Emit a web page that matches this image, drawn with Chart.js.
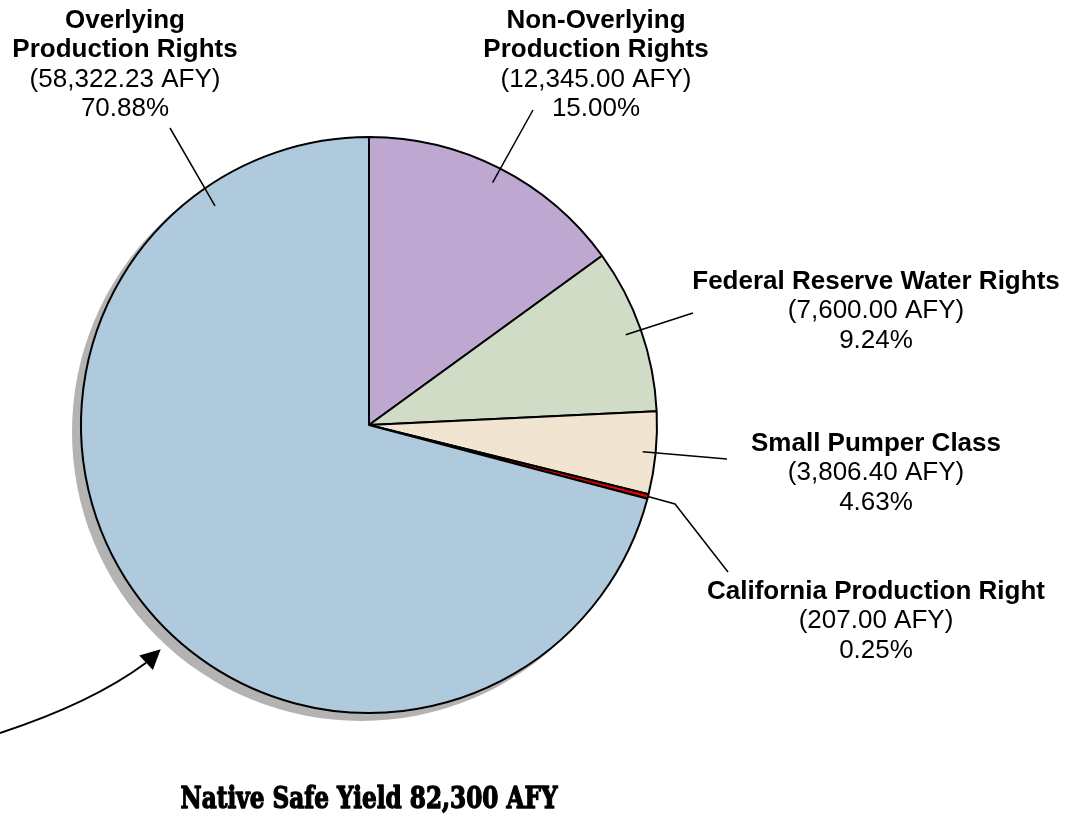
<!DOCTYPE html>
<html>
<head>
<meta charset="utf-8">
<script src="https://cdn.jsdelivr.net/npm/chart.js@4"></script>
<style>
  html, body { margin: 0; padding: 0; background: #fff; }
  #wrap { width: 1088px; height: 817px; }
</style>
</head>
<body>
<div id="wrap"><canvas id="pie" width="1088" height="817"></canvas></div>
<script>
// data, clockwise from 12 o'clock
const names = [
  ['Non-Overlying', 'Production Rights'],
  ['Federal Reserve Water Rights'],
  ['Small Pumper Class'],
  ['California Production Right'],
  ['Overlying', 'Production Rights']
];
const afy = [12345.00, 7600.00, 3806.40, 207.00, 58322.23];
const percents = ['15.00%', '9.24%', '4.63%', '0.25%', '70.88%'];
const colors = ['#bea8d2', '#d0dcc5', '#f1e5d1', '#ee0000', '#afc9dd'];
const title = 'Native Safe Yield 82,300 AFY';

// label layout: text center x, middle of first line, leader line
const labelPos = [
  { x: 596, y: 21, to: [533, 110], angle: null, r: 0.945 },
  { x: 876, y: 282, to: [693, 313], angle: null, r: 0.945 },
  { x: 876, y: 444, to: [727, 459], angle: null, r: 0.955 },
  { x: 876, y: 592, to: [728, 572], angle: null, r: 1.0, elbow: [675, 504] },
  { x: 125, y: 21, to: [170, 128], angle: 324.9, r: 0.93 }
];
const lineH = 29.3;

const fmt = v => v.toLocaleString('en-US', { minimumFractionDigits: 2, maximumFractionDigits: 2 });

const decor = {
  id: 'decor',
  beforeDatasetsDraw(chart) {
    const arc = chart.getDatasetMeta(0).data[0];
    const ctx = chart.ctx;
    ctx.save();
    ctx.fillStyle = '#b3b3b3';
    ctx.beginPath();
    ctx.arc(arc.x - 8, arc.y + 7, arc.outerRadius + 1, 0, Math.PI * 2);
    ctx.fill();
    ctx.restore();
  },
  afterDraw(chart) {
    const ctx = chart.ctx;
    const arcs = chart.getDatasetMeta(0).data;
    const cx = arcs[0].x, cy = arcs[0].y, R = arcs[0].outerRadius;
    ctx.save();

    // leader lines
    ctx.strokeStyle = '#000';
    ctx.lineWidth = 1.5;
    arcs.forEach((a, i) => {
      const p = labelPos[i];
      const ang = p.angle == null ? (a.startAngle + a.endAngle) / 2 : (p.angle - 90) * Math.PI / 180;
      const sx = cx + Math.cos(ang) * R * p.r;
      const sy = cy + Math.sin(ang) * R * p.r;
      ctx.beginPath();
      ctx.moveTo(sx, sy);
      if (p.elbow) ctx.lineTo(p.elbow[0], p.elbow[1]);
      ctx.lineTo(p.to[0], p.to[1]);
      ctx.stroke();
    });

    // labels
    ctx.fillStyle = '#000';
    ctx.textAlign = 'center';
    ctx.textBaseline = 'middle';
    names.forEach((nm, i) => {
      const p = labelPos[i];
      let y = p.y;
      ctx.font = 'bold 26px "Liberation Sans", Arial, sans-serif';
      nm.forEach(t => { ctx.fillText(t, p.x, y); y += lineH; });
      ctx.font = '26px "Liberation Sans", Arial, sans-serif';
      ctx.fillText('(' + fmt(afy[i]) + ' AFY)', p.x, y); y += lineH;
      ctx.fillText(percents[i], p.x, y);
    });

    // arrow pointing at the big slice
    const ta = (222.9 - 90) * Math.PI / 180;
    const tip = [cx + Math.cos(ta) * (R + 18), cy + Math.sin(ta) * (R + 18)];
    const start = [0, cy + 308];
    const dir = Math.atan2(tip[1] - 661, tip[0] - 148);
    const base = [tip[0] - Math.cos(dir) * 20, tip[1] - Math.sin(dir) * 20];
    ctx.beginPath();
    ctx.moveTo(start[0], start[1]);
    ctx.quadraticCurveTo(92, cy + 278, base[0], base[1]);
    ctx.lineWidth = 2;
    ctx.stroke();
    ctx.beginPath();
    ctx.moveTo(tip[0], tip[1]);
    ctx.lineTo(base[0] + Math.cos(dir + Math.PI / 2) * 10, base[1] + Math.sin(dir + Math.PI / 2) * 10);
    ctx.lineTo(base[0] - Math.cos(dir + Math.PI / 2) * 10, base[1] - Math.sin(dir + Math.PI / 2) * 10);
    ctx.closePath();
    ctx.fill();

    // title, heavy serif
    ctx.font = 'bold 30px "DejaVu Serif", "Liberation Serif", serif';
    ctx.lineWidth = 1.4;
    ctx.lineJoin = 'round';
    ctx.strokeText(title, cx, 800, 377);
    ctx.fillText(title, cx, 800, 377);
    ctx.restore();
  }
};

new Chart(document.getElementById('pie'), {
  type: 'pie',
  data: {
    labels: names.map(n => n.join(' ')),
    datasets: [{
      data: afy,
      backgroundColor: colors,
      borderColor: '#000',
      borderWidth: 2
    }]
  },
  options: {
    responsive: false,
    animation: false,
    layout: { padding: { left: 80, right: 430, top: 136, bottom: 103 } },
    plugins: { legend: { display: false }, tooltip: { enabled: false } }
  },
  plugins: [decor]
});
</script>
</body>
</html>
